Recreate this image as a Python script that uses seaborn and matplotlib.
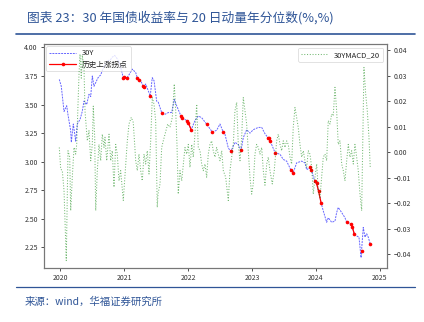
import numpy as np
import pandas as pd
import matplotlib
matplotlib.use("Agg")
import matplotlib.pyplot as plt
import seaborn as sns
from matplotlib.lines import Line2D

# ---------------- data (decimal year) ----------------
blue_t = [2019.989, 2020.020, 2020.063, 2020.105, 2020.125, 2020.167, 2020.177, 2020.208,
          2020.245, 2020.270, 2020.313, 2020.348, 2020.375, 2020.417, 2020.453, 2020.480,
          2020.505, 2020.531, 2020.573, 2020.594, 2020.636, 2020.677, 2020.739, 2020.792,
          2020.817, 2020.855, 2020.895, 2020.938, 2020.989, 2021.005, 2021.040, 2021.078,
          2021.130, 2021.183, 2021.210, 2021.230, 2021.261, 2021.300, 2021.310, 2021.339,
          2021.410, 2021.442, 2021.469, 2021.511, 2021.536, 2021.589, 2021.641, 2021.692,
          2021.745, 2021.786, 2021.823, 2021.890, 2021.910, 2021.980, 2022.005, 2022.050,
          2022.109, 2022.161, 2022.214, 2022.290, 2022.380, 2022.448, 2022.500, 2022.550,
          2022.578, 2022.630, 2022.670, 2022.734, 2022.786, 2022.830, 2022.864, 2022.917,
          2022.969, 2023.020, 2023.098, 2023.152, 2023.203, 2023.250, 2023.270, 2023.280,
          2023.308, 2023.360, 2023.438, 2023.489, 2023.542, 2023.610, 2023.645, 2023.698,
          2023.777, 2023.828, 2023.855, 2023.906, 2023.930, 2023.980, 2024.010, 2024.040,
          2024.080, 2024.114, 2024.167, 2024.192, 2024.245, 2024.297, 2024.323, 2024.348,
          2024.402, 2024.453, 2024.480, 2024.550, 2024.570, 2024.600, 2024.636, 2024.672,
          2024.705, 2024.712, 2024.739, 2024.766, 2024.792, 2024.817, 2024.848]
blue_y = [3.72, 3.66, 3.44, 3.49, 3.41, 3.27, 3.17, 3.33,
          3.18, 3.33, 3.37, 3.44, 3.53, 3.50, 3.59, 3.57,
          3.75, 3.66, 3.71, 3.735, 3.76, 3.82, 3.88, 3.895,
          3.915, 3.93, 3.90, 3.85, 3.735, 3.74, 3.73, 3.76,
          3.81, 3.78, 3.73, 3.715, 3.71, 3.66, 3.65, 3.68,
          3.575, 3.735, 3.71, 3.53, 3.52, 3.43, 3.415, 3.43,
          3.43, 3.545, 3.49, 3.40, 3.385, 3.36, 3.34, 3.28,
          3.36, 3.40, 3.385, 3.33, 3.26, 3.275, 3.33, 3.26,
          3.24, 3.12, 3.09, 3.17, 3.15, 3.10, 3.21, 3.28,
          3.25, 3.28, 3.30, 3.30, 3.245, 3.21, 3.21, 3.18,
          3.15, 3.08, 3.065, 3.02, 3.005, 2.925, 2.905, 2.99,
          3.005, 2.99, 2.93, 2.95, 2.925, 2.83, 2.81, 2.745,
          2.64, 2.57, 2.47, 2.51, 2.47, 2.48, 2.555, 2.60,
          2.555, 2.51, 2.47, 2.455, 2.425, 2.365, 2.35, 2.34,
          2.16, 2.22, 2.425, 2.34, 2.37, 2.34, 2.28]

red_t = [2020.989, 2021.005, 2021.040, 2021.210, 2021.230, 2021.300, 2021.310, 2021.410,
         2021.589, 2021.890, 2021.910, 2021.980, 2022.005, 2022.050, 2022.290, 2022.380,
         2022.550, 2022.670, 2022.830, 2023.250, 2023.270, 2023.280, 2023.360, 2023.610,
         2023.645, 2023.906, 2023.930, 2023.980, 2024.010, 2024.040, 2024.080, 2024.480,
         2024.550, 2024.570, 2024.600, 2024.712, 2024.848]
red_y = [3.735, 3.74, 3.73, 3.73, 3.715, 3.66, 3.65, 3.575,
         3.43, 3.40, 3.385, 3.36, 3.34, 3.28, 3.33, 3.26,
         3.26, 3.09, 3.10, 3.21, 3.21, 3.18, 3.08, 2.925,
         2.905, 2.95, 2.925, 2.83, 2.81, 2.745, 2.64, 2.47,
         2.455, 2.425, 2.365, 2.22, 2.28]
red_grp = [1, 1, 1, 2, 2, 3, 3, 4,
           5, 6, 6, 7, 7, 7, 8, 9,
           10, 11, 12, 13, 13, 13, 14, 15,
           15, 16, 16, 17, 17, 17, 17, 18,
           19, 19, 19, 20, 21]

green_t = [2019.989, 2020.011, 2020.036, 2020.063, 2020.098, 2020.125, 2020.152, 2020.167,
           2020.192, 2020.219, 2020.245, 2020.261, 2020.281, 2020.297, 2020.313, 2020.333,
           2020.348, 2020.375, 2020.391, 2020.406, 2020.427, 2020.453, 2020.480, 2020.505,
           2020.520, 2020.542, 2020.558, 2020.583, 2020.609, 2020.636, 2020.661, 2020.688,
           2020.703, 2020.730, 2020.766, 2020.792, 2020.817, 2020.844, 2020.870, 2020.895,
           2020.922, 2020.948, 2020.989, 2021.027, 2021.052, 2021.078, 2021.114, 2021.145,
           2021.183, 2021.208, 2021.234, 2021.261, 2021.286, 2021.313, 2021.339, 2021.364,
           2021.391, 2021.417, 2021.442, 2021.469, 2021.495, 2021.520, 2021.531, 2021.563,
           2021.589, 2021.614, 2021.641, 2021.683, 2021.719, 2021.755, 2021.786, 2021.808,
           2021.828, 2021.848, 2021.875, 2021.902, 2021.927, 2021.953, 2021.980, 2022.005,
           2022.031, 2022.058, 2022.083, 2022.109, 2022.136, 2022.161, 2022.188, 2022.214,
           2022.239, 2022.266, 2022.292, 2022.317, 2022.344, 2022.370, 2022.395, 2022.422,
           2022.448, 2022.473, 2022.500, 2022.527, 2022.552, 2022.589, 2022.630, 2022.656,
           2022.683, 2022.708, 2022.734, 2022.761, 2022.786, 2022.813, 2022.839, 2022.864,
           2022.891, 2022.917, 2022.942, 2022.969, 2022.995, 2023.020, 2023.047, 2023.073,
           2023.098, 2023.125, 2023.152, 2023.177, 2023.203, 2023.230, 2023.255, 2023.281,
           2023.317, 2023.348, 2023.386, 2023.411, 2023.438, 2023.464, 2023.489, 2023.516,
           2023.542, 2023.567, 2023.594, 2023.620, 2023.645, 2023.672, 2023.698, 2023.723,
           2023.750, 2023.777, 2023.802, 2023.828, 2023.855, 2023.880, 2023.906, 2023.933,
           2023.958, 2023.984, 2024.011, 2024.036, 2024.063, 2024.089, 2024.114, 2024.141,
           2024.167, 2024.192, 2024.219, 2024.245, 2024.270, 2024.297, 2024.323, 2024.348,
           2024.375, 2024.402, 2024.427, 2024.453, 2024.480, 2024.505, 2024.531, 2024.558,
           2024.583, 2024.609, 2024.636, 2024.661, 2024.688, 2024.714, 2024.730, 2024.750,
           2024.777, 2024.802, 2024.828, 2024.848]
green_v = [0.0018, -0.0067, -0.0073, -0.0152, -0.0426, 0.0005, -0.0020, -0.0230,
           -0.0100, 0.0018, -0.0008, 0.0030, 0.0190, 0.0306, 0.0384, 0.0290,
           0.0380, 0.0330, 0.0160, 0.0110, 0.0044, 0.0084, -0.0034, 0.0031,
           0.0180, 0.0058, -0.0230, -0.0073, 0.0030, -0.0034, 0.0070, 0.0018,
           0.0058, -0.0034, 0.0070, -0.0034, 0.0005, -0.0138, 0.0030, -0.0008,
           -0.0113, -0.0073, -0.0190, -0.0047, 0.0044, 0.0110, 0.0136, 0.0116,
           -0.0034, -0.0073, -0.0008, -0.0073, -0.0113, -0.0008, -0.0047, 0.0005,
           -0.0086, 0.0044, 0.0214, 0.0188, 0.0123, -0.0217, -0.0165, -0.0125,
           0.0018, 0.0044, 0.0070, 0.0110, 0.0097, 0.0136, 0.0267, 0.0162,
           0.0030, -0.0165, -0.0073, -0.0113, -0.0047, 0.0018, -0.0008, 0.0030,
           -0.0060, 0.0030, -0.0020, 0.0070, 0.0188, 0.0018, 0.0005, -0.0047,
           -0.0073, -0.0047, -0.0099, -0.0008, 0.0030, 0.0044, 0.0005, -0.0020,
           0.0018, -0.0008, -0.0034, 0.0005, -0.0073, -0.0099, -0.0190, -0.0073,
           -0.0020, 0.0030, 0.0162, 0.0195, 0.0030, -0.0034, 0.0058, 0.0214,
           0.0162, 0.0110, 0.0005, -0.0099, -0.0165, -0.0125, -0.0008, 0.0030,
           0.0018, -0.0008, 0.0018, -0.0073, -0.0130, -0.0047, -0.0020, -0.0073,
           -0.0125, -0.0073, 0.0044, 0.0070, 0.0030, 0.0005, 0.0044, 0.0018,
           0.0044, 0.0030, -0.0020, -0.0047, 0.0097, 0.0175, 0.0136, 0.0097,
           0.0030, -0.0020, 0.0005, -0.0034, -0.0060, 0.0005, -0.0008, -0.0060,
           -0.0165, -0.0099, -0.0047, -0.0152, -0.0178, -0.0099, -0.0020, -0.0008,
           -0.0034, 0.0123, 0.0110, 0.0149, 0.0142, 0.0254, 0.0162, 0.0030,
           0.0044, -0.0047, -0.0073, -0.0113, -0.0034, 0.0030, -0.0020, 0.0005,
           -0.0047, 0.0030, -0.0020, -0.0073, -0.0165, -0.0230, 0.0030, 0.0332,
           0.0227, 0.0162, 0.0058, -0.0060]

year_ticks = [2020, 2021, 2022, 2023, 2024, 2025]
left_ticks = [2.25, 2.50, 2.75, 3.00, 3.25, 3.50, 3.75, 4.00]
right_ticks = [-0.04, -0.03, -0.02, -0.01, 0.00, 0.01, 0.02, 0.03, 0.04]

title_text = "图表 23：30 年国债收益率与 20 日动量年分位数(%,%)"
source_text = "来源：wind，华福证券研究所"
label_30y = "30Y"
label_red = "历史上涨拐点"
label_green = "30YMACD_20"

# ---------------- plotting ----------------
sns.set_theme(style="ticks")
plt.rcParams["font.family"] = ["Noto Sans CJK SC", "DejaVu Sans"]
plt.rcParams["axes.unicode_minus"] = True

W, H = 424, 322
fig = plt.figure(figsize=(W / 100, H / 100), dpi=100)
fig.patch.set_facecolor("white")

L, R, T, B = 44, 387, 44, 268
ax = fig.add_axes([L / W, 1 - B / H, (R - L) / W, (B - T) / H])
ax2 = ax.twinx()

df_b = pd.DataFrame({"t": blue_t, "y": blue_y})
df_r = pd.DataFrame({"t": red_t, "y": red_y, "g": red_grp})
df_g = pd.DataFrame({"t": green_t, "v": green_v})

blue_ls = (0, (2.0, 1.0))
sns.lineplot(data=df_b, x="t", y="y", ax=ax, color="blue", lw=0.7, linestyle=blue_ls,
             alpha=0.6, estimator=None, sort=False)
sns.lineplot(data=df_r, x="t", y="y", units="g", ax=ax, color="red", lw=0.9,
             marker="o", markersize=2.6, markeredgewidth=0, estimator=None, sort=False)
sns.lineplot(data=df_g, x="t", y="v", ax=ax2, color="green", lw=0.75, linestyle=":",
             alpha=0.55, estimator=None, sort=False)

ax.set_xlim(2019.75, 2025.11)
ax.set_ylim(2.07, 4.03)
ax2.set_ylim(-0.0455, 0.0424)

ax.set_xticks(year_ticks)
ax.set_xticklabels([str(y) for y in year_ticks])
ax.set_yticks(left_ticks)
ax.set_yticklabels([f"{v:.2f}" for v in left_ticks])
ax2.set_yticks(right_ticks)
ax2.set_yticklabels([f"{v:.2f}".replace("-", "\u2212") for v in right_ticks])

for a in (ax, ax2):
    a.set_xlabel("")
    a.set_ylabel("")
    a.tick_params(labelsize=5, length=2.5, width=0.6, pad=2, colors="#333333")
    for s in a.spines.values():
        s.set_color("#777777")
        s.set_linewidth(0.8)
    a.spines["top"].set_visible(True)
    a.spines["right"].set_visible(True)

h1 = [Line2D([], [], color="blue", lw=0.7, ls=blue_ls, alpha=0.6, label=label_30y),
      Line2D([], [], color="red", lw=0.9, marker="o", ms=2.6, mew=0, label=label_red)]
leg1 = ax.legend(handles=h1, loc="upper left", fontsize=5.5, frameon=True,
                 borderaxespad=0.3, handlelength=3.5, labelspacing=0.4)
leg1.get_frame().set_linewidth(0.5)
h2 = [Line2D([], [], color="green", lw=0.75, ls=":", alpha=0.55, label=label_green)]
leg2 = ax2.legend(handles=h2, loc="upper right", fontsize=5.5, frameon=True,
                  borderaxespad=0.5, handlelength=3.5)
leg2.get_frame().set_linewidth(0.5)

blue_txt = "#2F5597"
fig.text(27 / W, 1 - 18 / H, title_text, fontsize=9.2, color=blue_txt, style="italic",
         va="center", ha="left")
fig.add_artist(Line2D([16 / W, 415 / W], [1 - 34 / H, 1 - 34 / H], color=blue_txt, lw=1.2))
fig.add_artist(Line2D([16 / W, 415 / W], [1 - 287 / H, 1 - 287 / H], color=blue_txt, lw=0.9))
fig.text(25 / W, 1 - 302 / H, source_text, fontsize=7.5, color=blue_txt, style="italic",
         va="center", ha="left")

fig.savefig("out.png", dpi=100, facecolor="white")
